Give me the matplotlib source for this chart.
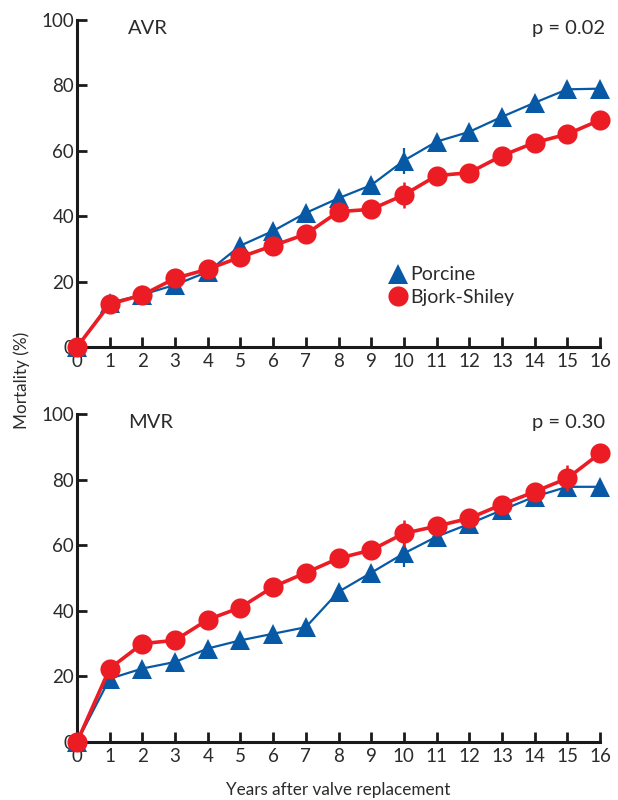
import matplotlib
matplotlib.use("Agg")
import matplotlib.pyplot as plt
from matplotlib.lines import Line2D

plt.rcParams['font.family'] = ['Lato', 'DejaVu Sans']

years = list(range(17))

# AVR panel
avr_porcine = [0, 13.5, 16, 19, 23, 31, 35.5, 41, 45.5, 49.5, 57, 62.8, 65.8, 70.4, 74.7, 78.8, 79]
avr_porcine_err = [0, 0, 0, 0, 0, 0, 0, 0, 0, 0, 4, 0, 0, 0, 0, 0, 0]
avr_bjork = [0, 13.1, 15.9, 21, 23.8, 27.5, 31, 34.5, 41.4, 42.1, 46.5, 52.4, 53.3, 58.5, 62.5, 65.1, 69.4]
avr_bjork_err = [0, 0, 0, 0, 0, 0, 0, 0, 0, 0, 4, 0, 0, 0, 0, 0, 0]

# MVR panel
mvr_porcine = [0, 19.3, 22.4, 24.4, 28.5, 31, 33, 35, 45.8, 51.6, 57.5, 62.6, 66.5, 70.7, 74.8, 77.8, 77.8]
mvr_porcine_err = [0, 0, 0, 0, 0, 0, 0, 0, 0, 0, 4, 0, 0, 0, 0, 3, 0]
mvr_bjork = [0, 22.4, 30, 31, 37.3, 41, 47.3, 51.6, 56, 58.5, 63.6, 65.8, 68.2, 72.4, 76.3, 80.4, 88]
mvr_bjork_err = [0, 0, 0, 0, 0, 0, 0, 0, 0, 0, 4, 0, 0, 0, 0, 4, 0]

blue = '#0759a6'
red = '#ec1c24'
txt = '#2b2b2b'

fig = plt.figure(figsize=(6.18, 8), dpi=100)
ax1 = fig.add_axes([77/618, 1-347/800, 523/618, 327/800])
ax2 = fig.add_axes([77/618, 1-742/800, 523/618, 328/800])


def panel(ax, porc, porc_err, bjork, bjork_err, name, ptext):
    ax.errorbar(years, porc, yerr=porc_err, color=blue, lw=1.6, marker='^', ms=15,
                mec=blue, mew=0, elinewidth=1.6, capsize=0, clip_on=False, zorder=3)
    ax.errorbar(years, bjork, yerr=bjork_err, color=red, lw=2.6, marker='o', ms=14.5,
                mec=red, mew=0, elinewidth=1.8, capsize=0, clip_on=False, zorder=4)
    ax.set_xlim(0, 16)
    ax.set_ylim(0, 100)
    ax.set_xticks(years)
    ax.set_yticks([0, 20, 40, 60, 80, 100])
    for s in ['top', 'right']:
        ax.spines[s].set_visible(False)
    for s in ['left', 'bottom']:
        ax.spines[s].set_linewidth(2.2)
        ax.spines[s].set_color('#1a1a1a')
    ax.tick_params(direction='in', length=7, width=2, color='#1a1a1a',
                   labelsize=13.5, labelcolor=txt)
    ax.tick_params(axis='x', pad=4)
    ax.tick_params(axis='y', pad=2)
    ax.text(1.55, 97.5, name, fontsize=14.5, color=txt, va='center')
    ax.text(16.15, 97.5, ptext, fontsize=14.5, color=txt, va='center', ha='right')


panel(ax1, avr_porcine, avr_porcine_err, avr_bjork, avr_bjork_err, 'AVR', 'p = 0.02')
panel(ax2, mvr_porcine, mvr_porcine_err, mvr_bjork, mvr_bjork_err, 'MVR', 'p = 0.30')

handles = [Line2D([], [], ls='none', marker='^', ms=15, color=blue, mew=0),
           Line2D([], [], ls='none', marker='o', ms=14.5, color=red, mew=0)]
ax1.legend(handles, ['Porcine', 'Bjork-Shiley'], loc='upper left',
           bbox_to_anchor=(0.565, 0.3), frameon=False,
           fontsize=14, handlelength=0.8, handletextpad=0.25, labelspacing=0.3,
           labelcolor=txt, numpoints=1)

fig.text(22/618, 1-380/800, 'Mortality (%)', rotation=90, ha='center', va='center',
         fontsize=12.3, color=txt)
fig.text(338/618, 1-790/800, 'Years after valve replacement', ha='center', va='center',
         fontsize=12.3, color=txt)

fig.savefig('out.png', dpi=100)
